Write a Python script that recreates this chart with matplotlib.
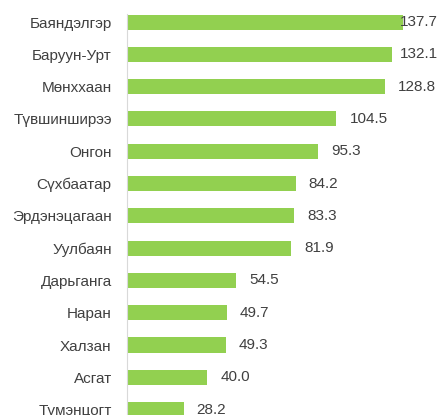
import matplotlib
matplotlib.use("Agg")
import matplotlib.pyplot as plt

districts = ["Баяндэлгэр", "Баруун-Урт", "Мөнххаан", "Түвшинширээ", "Онгон",
             "Сүхбаатар", "Эрдэнэцагаан", "Уулбаян", "Дарьганга", "Наран",
             "Халзан", "Асгат", "Түмэнцогт"]
values = [137.7, 132.1, 128.8, 104.5, 95.3, 84.2, 83.3, 81.9, 54.5, 49.7,
          49.3, 40.0, 28.2]

plt.rcParams['font.family'] = ['Liberation Sans', 'DejaVu Sans']
text_color = '#404040'

fig = plt.figure(figsize=(4.42, 4.15), dpi=100)
ax = fig.add_axes([127 / 442, 0, 315 / 442, 1 - 14 / 415])

pos = list(range(len(values)))
ax.barh(pos, values, height=0.465, color='#92D050')

ax.set_xlim(0, 157.2)
ax.set_ylim(12.167, -0.248)
ax.set_yticks(pos)
ax.set_yticklabels(districts, fontsize=11, color=text_color)
ax.tick_params(axis='y', length=0, pad=11)
ax.set_xticks([])
for s in ['top', 'right', 'bottom']:
    ax.spines[s].set_visible(False)
ax.spines['left'].set_color('#d9d9d9')

# value labels, pushed left if they would run off the chart
labels = []
for p, v in zip(pos, values):
    t = ax.text(v + 6.5, p, f"{v:.1f}", va='center', ha='left',
                fontsize=11, color=text_color)
    labels.append(t)

fig.canvas.draw()
renderer = fig.canvas.get_renderer()
limit = 438
for t in labels:
    bb = t.get_window_extent(renderer)
    if bb.x1 > limit:
        shift_px = bb.x1 - limit
        x, y = t.get_position()
        dx = shift_px * (157.2 / 315)
        t.set_position((x - dx, y))

fig.savefig('out.png', dpi=100)
